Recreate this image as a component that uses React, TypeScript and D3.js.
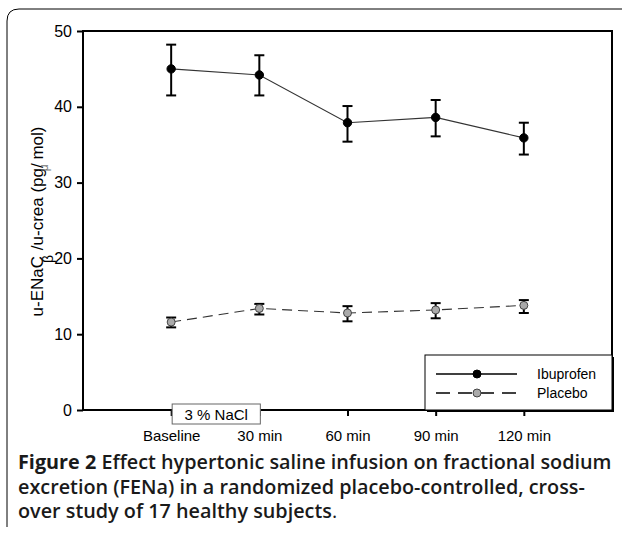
import { useEffect, useRef } from "react";
import * as d3 from "d3";

// categories along the x axis
const timepoints = ["Baseline", "30 min", "60 min", "90 min", "120 min"];
// Ibuprofen: mean and error bar ends
const ibuMean = [45.0, 44.2, 37.9, 38.6, 35.9];
const ibuHigh = [48.2, 46.8, 40.1, 40.9, 37.9];
const ibuLow = [41.5, 41.5, 35.4, 36.1, 33.7];
// Placebo
const plaMean = [11.6, 13.4, 12.8, 13.2, 13.8];
const plaHigh = [12.2, 14.0, 13.7, 14.1, 14.5];
const plaLow = [10.9, 12.6, 11.7, 12.1, 12.8];
const yTicks = [0, 10, 20, 30, 40, 50];

const W = 622,
    H = 534;
const margin = { top: 31, right: 10, bottom: 124, left: 83 };
const FONT = "Liberation Sans, Arial, sans-serif";

function Chart() {
    const svgRef = useRef<SVGSVGElement>(null);

    useEffect(() => {
        const svg = d3.select(svgRef.current);
        svg.selectAll("*").remove();

        const x = d3
            .scaleLinear()
            .domain([-1, 5])
            .range([margin.left, W - margin.right]);
        const y = d3
            .scaleLinear()
            .domain([0, 50])
            .range([H - margin.bottom, margin.top]);

        // outer figure frame (rounded top-left corner)
        svg.append("path")
            .attr("d", `M7,527 L7,21 Q7,9 19,9 L622,9`)
            .attr("fill", "none")
            .attr("stroke", "#000")
            .attr("stroke-width", 1);

        // plot frame
        svg.append("rect")
            .attr("x", x(-1))
            .attr("y", y(50))
            .attr("width", x(5) - x(-1))
            .attr("height", y(0) - y(50))
            .attr("fill", "none")
            .attr("stroke", "#000")
            .attr("stroke-width", 2);

        // y axis
        const gy = svg
            .append("g")
            .attr("transform", `translate(${x(-1)},0)`)
            .call(d3.axisLeft(y).tickValues(yTicks).tickSize(6).tickPadding(5));
        gy.select(".domain").remove();
        gy.selectAll("line").attr("stroke-width", 2);
        gy.selectAll("text")
            .attr("font-family", FONT)
            .attr("font-size", 16)
            .attr("fill", "#000");

        // x axis
        const gx = svg
            .append("g")
            .attr("transform", `translate(0,${y(0)})`)
            .call(
                d3
                    .axisBottom(x)
                    .tickValues(d3.range(timepoints.length))
                    .tickFormat((d) => timepoints[d as number])
                    .tickSize(6)
                    .tickPadding(14)
            );
        gx.select(".domain").remove();
        gx.selectAll("line").attr("stroke-width", 2);
        gx.selectAll("text")
            .attr("font-family", FONT)
            .attr("font-size", 15)
            .attr("fill", "#000");

        // 3 % NaCl box
        const nacl = svg.append("g");
        nacl.append("rect")
            .attr("x", x(0) + 1)
            .attr("y", y(0) - 6)
            .attr("width", x(1) - x(0))
            .attr("height", 20)
            .attr("fill", "#fff")
            .attr("stroke", "#666")
            .attr("stroke-width", 1);
        nacl.append("text")
            .attr("x", x(0) + 1 + (x(1) - x(0)) / 2)
            .attr("y", y(0) + 9.5)
            .attr("text-anchor", "middle")
            .attr("font-family", FONT)
            .attr("font-size", 15)
            .text("3 % NaCl");

        const line = d3
            .line<number>()
            .x((_, i) => x(i))
            .y((d) => y(d));

        const drawSeries = (
            mean: number[],
            hi: number[],
            lo: number[],
            fill: string,
            dash: string | null,
            r: number
        ) => {
            const g = svg.append("g");
            g.append("path")
                .attr("d", line(mean))
                .attr("fill", "none")
                .attr("stroke", "#333")
                .attr("stroke-width", 1.1)
                .attr("stroke-dasharray", dash);
            mean.forEach((m, i) => {
                const cx = x(i);
                g.append("line")
                    .attr("x1", cx)
                    .attr("x2", cx)
                    .attr("y1", y(hi[i]))
                    .attr("y2", y(lo[i]))
                    .attr("stroke", "#000")
                    .attr("stroke-width", 2);
                [hi[i], lo[i]].forEach((v) => {
                    g.append("line")
                        .attr("x1", cx - 5)
                        .attr("x2", cx + 5)
                        .attr("y1", y(v))
                        .attr("y2", y(v))
                        .attr("stroke", "#000")
                        .attr("stroke-width", 2);
                });
                g.append("circle")
                    .attr("cx", cx)
                    .attr("cy", y(m))
                    .attr("r", r)
                    .attr("fill", fill)
                    .attr("stroke", fill === "#000" ? "#000" : "#444")
                    .attr("stroke-width", 1);
            });
        };

        drawSeries(ibuMean, ibuHigh, ibuLow, "#000", null, 4.2);
        drawSeries(plaMean, plaHigh, plaLow, "#aaa", "10,6", 4);

        // legend
        const lg = svg.append("g");
        const lx = 425,
            ly = 355,
            lw = W - margin.right - lx,
            lh = y(0) - ly;
        lg.append("rect")
            .attr("x", lx + 2)
            .attr("y", ly + 2)
            .attr("width", lw)
            .attr("height", lh)
            .attr("fill", "#000");
        lg.append("rect")
            .attr("x", lx)
            .attr("y", ly)
            .attr("width", lw)
            .attr("height", lh)
            .attr("fill", "#fff")
            .attr("stroke", "#000")
            .attr("stroke-width", 1);
        const items = [
            { name: "Ibuprofen", fill: "#000", dash: null, yy: 374 },
            { name: "Placebo", fill: "#aaa", dash: "14,8", yy: 393 },
        ];
        items.forEach((it) => {
            lg.append("line")
                .attr("x1", 436)
                .attr("x2", 517)
                .attr("y1", it.yy)
                .attr("y2", it.yy)
                .attr("stroke", "#000")
                .attr("stroke-width", 1.5)
                .attr("stroke-dasharray", it.dash);
            lg.append("circle")
                .attr("cx", 477)
                .attr("cy", it.yy)
                .attr("r", 4)
                .attr("fill", it.fill)
                .attr("stroke", it.fill === "#000" ? "#000" : "#444");
            lg.append("text")
                .attr("x", 537)
                .attr("y", it.yy + 5)
                .attr("font-family", FONT)
                .attr("font-size", 14)
                .text(it.name);
        });

        // y axis title
        const yt = svg
            .append("text")
            .attr("transform", `translate(43,${(y(0) + y(50)) / 2 + 1}) rotate(-90)`)
            .attr("text-anchor", "middle")
            .attr("font-family", FONT)
            .attr("font-size", 17)
            .attr("fill", "#000");
        yt.append("tspan").text("u-ENaC");
        yt.append("tspan")
            .attr("font-size", 14)
            .attr("dx", -7)
            .attr("dy", 10)
            .text("β");
        yt.append("tspan").attr("dy", -10).text("  /u-crea (pg/");
        yt.append("tspan")
            .attr("font-size", 12)
            .attr("dx", -8)
            .attr("dy", 5)
            .attr("fill", "#777")
            .text("μ");
        yt.append("tspan").attr("dy", -5).text("  mol)");

        // caption, scaled so the first line fills the panel width
        const lines = [
            [
                { t: "Figure 2", w: 700 },
                { t: " Effect hypertonic saline infusion on fractional sodium", w: 600 },
            ],
            [{ t: "excretion (FENa) in a randomized placebo-controlled, cross-", w: 600 }],
            [
                { t: "over study of 17 healthy subjects", w: 600 },
                { t: ".", w: 400 },
            ],
        ];
        const capNodes = lines.map((ln, i) => {
            const t = svg
                .append("text")
                .attr("x", 18)
                .attr("y", 469 + i * 24.5)
                .attr("font-family", "'Open Sans', Lato, sans-serif")
                .attr("font-size", 17)
                .attr("fill", "#1a1a1a");
            ln.forEach((seg) => {
                t.append("tspan").attr("font-weight", seg.w).text(seg.t);
            });
            return t;
        });
        const len = (capNodes[0].node() as SVGTextElement).getComputedTextLength();
        if (len > 0) {
            const fs = (17 * 594) / len;
            capNodes.forEach((t) => t.attr("font-size", fs));
        }
    }, []);

    return <svg ref={svgRef} width={W} height={H} style={{ display: "block" }} />;
}

export default function App() {
    return (
        <div style={{ position: "absolute", left: 0, top: 0 }}>
            <Chart />
        </div>
    );
}
